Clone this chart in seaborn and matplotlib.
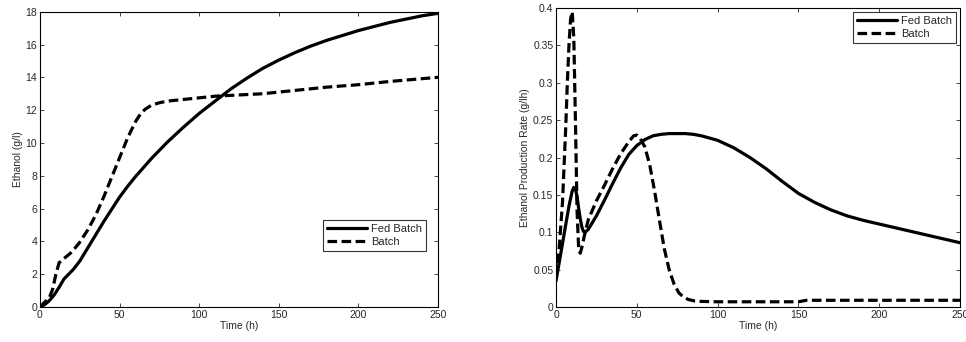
import numpy as np
import pandas as pd
import matplotlib
matplotlib.use("Agg")
import matplotlib.pyplot as plt
import seaborn as sns

# ---- data: left panel (Ethanol concentration) ----
fed_t1 = [0, 3, 6, 9, 12, 15, 18, 21, 25, 30, 35, 40, 45, 50, 55, 60, 65, 70, 75, 80, 90,
          100, 110, 120, 130, 140, 150, 160, 170, 180, 190, 200, 210, 220, 230, 240, 250]
fed_e1 = [0, 0.15, 0.4, 0.75, 1.2, 1.7, 2.0, 2.3, 2.8, 3.6, 4.4, 5.2, 5.95, 6.7, 7.35,
          7.95, 8.5, 9.05, 9.55, 10.05, 10.95, 11.8, 12.55, 13.3, 13.95, 14.55, 15.05,
          15.5, 15.9, 16.25, 16.55, 16.85, 17.1, 17.35, 17.55, 17.75, 17.9]
bat_t1 = [0, 3, 6, 8, 10, 12, 15, 20, 25, 30, 35, 40, 45, 50, 55, 60, 63, 66, 70, 75, 80,
          90, 100, 110, 120, 140, 160, 180, 200, 220, 250]
bat_e1 = [0, 0.3, 0.6, 1.1, 2.0, 2.7, 2.95, 3.35, 3.95, 4.7, 5.6, 6.7, 7.9, 9.1, 10.3,
          11.3, 11.75, 12.05, 12.3, 12.45, 12.55, 12.65, 12.75, 12.85, 12.9, 13.0, 13.2,
          13.4, 13.55, 13.75, 14.0]

# ---- data: right panel (Ethanol production rate) ----
fed_t2 = [0, 2, 4, 6, 8, 10, 11, 12, 13, 14, 15, 16, 17, 18, 20, 25, 30, 35, 40, 45, 50,
          55, 60, 65, 70, 75, 80, 85, 90, 100, 110, 120, 130, 140, 150, 160, 170, 180,
          190, 200, 210, 220, 230, 240, 250]
fed_r2 = [0.035, 0.06, 0.085, 0.11, 0.135, 0.155, 0.16, 0.158, 0.148, 0.132, 0.118,
          0.107, 0.101, 0.1, 0.104, 0.122, 0.143, 0.165, 0.186, 0.204, 0.216, 0.224,
          0.229, 0.231, 0.232, 0.232, 0.232, 0.231, 0.229, 0.223, 0.213, 0.2, 0.185,
          0.168, 0.152, 0.14, 0.13, 0.122, 0.116, 0.111, 0.106, 0.101, 0.096, 0.091,
          0.086]
bat_t2 = [0, 2, 4, 5, 6, 7, 8, 9, 10, 11, 12, 13, 14, 15, 16, 18, 20, 25, 30, 35, 40, 45,
          48, 50, 52, 55, 58, 61, 64, 67, 70, 73, 76, 79, 82, 86, 90, 100, 150, 155, 250]
bat_r2 = [0.04, 0.08, 0.14, 0.19, 0.24, 0.3, 0.35, 0.385, 0.395, 0.36, 0.25, 0.13,
          0.078, 0.072, 0.08, 0.1, 0.117, 0.142, 0.163, 0.185, 0.205, 0.221, 0.229, 0.23,
          0.226, 0.214, 0.19, 0.155, 0.116, 0.078, 0.05, 0.031, 0.019, 0.013, 0.01,
          0.008, 0.0075, 0.007, 0.007, 0.009, 0.009]

labels = ["Fed Batch", "Batch"]

sns.set_style("ticks")
plt.rcParams['font.family'] = ['Liberation Sans', 'DejaVu Sans']
plt.rcParams['font.size'] = 7.5

fig = plt.figure(figsize=(9.66, 3.42), dpi=100)
ax1 = fig.add_axes([0.0414, 0.1023, 0.412, 0.8635])
ax2 = fig.add_axes([0.5756, 0.1023, 0.4182, 0.8743])

df1 = pd.concat([
    pd.DataFrame({"t": fed_t1, "y": fed_e1, "s": labels[0]}),
    pd.DataFrame({"t": bat_t1, "y": bat_e1, "s": labels[1]}),
])
df2 = pd.concat([
    pd.DataFrame({"t": fed_t2, "y": fed_r2, "s": labels[0]}),
    pd.DataFrame({"t": bat_t2, "y": bat_r2, "s": labels[1]}),
])

lw = 2.3
for ax, df in [(ax1, df1), (ax2, df2)]:
    sns.lineplot(data=df, x="t", y="y", hue="s", style="s", ax=ax,
                 palette=["black", "black"], dashes=[(None, None), (3.0, 1.4)],
                 linewidth=lw, sort=False, estimator=None)
    for ln in ax.get_lines():
        ln.set_solid_joinstyle("round")
        ln.set_dash_joinstyle("round")
    for sp in ax.spines.values():
        sp.set_visible(True)
        sp.set_linewidth(0.8)
        sp.set_color("black")
    ax.tick_params(direction="in", top=True, right=True, length=3, width=0.6,
                   labelsize=7.5, pad=2)
    ax.set_xlim(0, 250)
    ax.set_xticks([0, 50, 100, 150, 200, 250])
    ax.set_xlabel("Time (h)", fontsize=7.5, labelpad=1)

ax1.set_ylim(0, 18)
ax1.set_yticks(np.arange(0, 19, 2))
ax1.set_ylabel("Ethanol (g/l)", fontsize=7.5, labelpad=2)

ax2.set_ylim(0, 0.4)
ax2.set_yticks([0, 0.05, 0.1, 0.15, 0.2, 0.25, 0.3, 0.35, 0.4])
ax2.set_yticklabels(["0", "0.05", "0.1", "0.15", "0.2", "0.25", "0.3", "0.35", "0.4"])
ax2.set_ylabel("Ethanol Production Rate (g/lh)", fontsize=7.5, labelpad=2)

for ax, loc, anchor in [(ax1, "lower right", (0.97, 0.19)), (ax2, "upper right", (0.99, 0.985))]:
    h, l = ax.get_legend_handles_labels()
    leg = ax.legend(h, l, loc=loc, bbox_to_anchor=anchor, frameon=True, fancybox=False,
                    edgecolor="black", fontsize=8, handlelength=3.6, handletextpad=0.4,
                    borderpad=0.35, labelspacing=0.25, borderaxespad=0)
    leg.get_frame().set_linewidth(0.8)
    for line in leg.get_lines():
        line.set_linewidth(lw)

fig.savefig("out.png", dpi=100)
